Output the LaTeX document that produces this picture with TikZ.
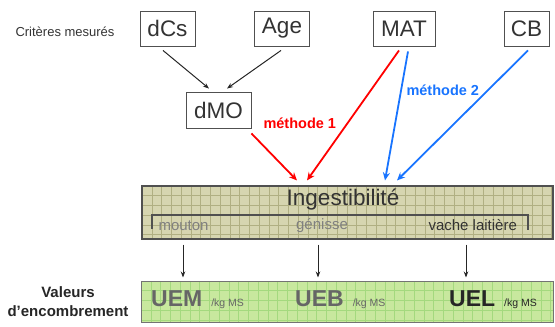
\documentclass[tikz,border=0pt]{standalone}
\usepackage{fontspec}
\setmainfont{Liberation Sans}
\usetikzlibrary{arrows.meta,calc}

\definecolor{txt}{HTML}{333333}
\definecolor{boxline}{HTML}{505050}
\definecolor{khaki}{HTML}{D6D5B0}
\definecolor{khakiline}{HTML}{B0AF82}
\definecolor{leaf}{HTML}{C8E89E}
\definecolor{leafline}{HTML}{A4D97E}
\definecolor{mred}{HTML}{FF0000}
\definecolor{mblue}{HTML}{1874FF}

\tikzset{
  critbox/.style={draw=boxline, line width=0.9pt, fill=white, inner sep=0pt,
    minimum height=35pt, text=txt, font=\fontsize{22.5}{22.5}\selectfont},
  band/.style={draw=boxline, line width=1.1pt, inner sep=0pt},
  blk/.style={draw=black!85, line width=1pt, -{Stealth[length=6pt,width=4.5pt]}},
  redarrow/.style={draw=mred, line width=1.8pt, -{Stealth[length=8pt,width=7pt]}},
  bluearrow/.style={draw=mblue, line width=1.8pt, -{Stealth[length=8pt,width=7pt]}},
  methode/.style={font=\fontsize{14.5}{14.5}\selectfont\bfseries, anchor=west},
  species/.style={font=\fontsize{15}{15}\selectfont, anchor=west},
  gridline/.style={line width=0.45pt},
}

\begin{document}
\begin{tikzpicture}[x=1pt,y=-1pt]
  \useasboundingbox (0,0) rectangle (555,327);

  % measured criteria
  \node[anchor=west, text=txt, font=\fontsize{13}{13}\selectfont] (crit) at (12,32) {Critères mesurés};
  \node[critbox, minimum width=55pt] (dCs) at (167.5,28.5) {dCs};
  \node[critbox, minimum width=55pt] (Age) at (282,28.5) {Age};
  \node[critbox, minimum width=62pt] (MAT) at (404,28.5) {MAT};
  \node[critbox, minimum width=45pt] (CB)  at (526.5,28.5) {CB};
  \node[critbox, minimum width=65pt, minimum height=36pt] (dMO) at (218.5,110) {dMO};

  % intake capacity band
  \fill[khaki] (142,186) rectangle (553,239);
  \foreach \i in {1,...,42} \draw[khakiline, gridline] (142+\i*9.75,186) -- (142+\i*9.75,239);
  \foreach \j in {1,...,5} \draw[khakiline, gridline] (142,186+\j*9.7) -- (553,186+\j*9.7);
  \node[band, minimum width=411pt, minimum height=53pt] (ing) at (347.5,212.5) {};
  \node[text=txt, font=\fontsize{22.5}{22.5}\selectfont] (ingt) at (343,200) {Ingestibilité};
  \draw[boxline, line width=1.3pt] (152,229) -- (152,215) -- (528,215) -- (528,230);
  \node[species, text=black!50] (mouton) at (155,225.5) {mouton};
  \node[species, text=black!50, anchor=center] (genisse) at (322,225.5) {génisse};
  \node[species, text=txt] (vache) at (425,225.5) {vache laitière};

  % fill values band
  \fill[leaf] (141,281) rectangle (553,322);
  \foreach \i in {1,...,42} \draw[leafline, gridline] (141+\i*9.75,281) -- (141+\i*9.75,322);
  \foreach \j in {1,...,4} \draw[leafline, gridline] (141,281+\j*9.7) -- (553,281+\j*9.7);
  \node[draw=black!55, line width=1pt, inner sep=0pt, minimum width=412pt, minimum height=41pt] (ue) at (347,301.5) {};
  \node[anchor=base west, text=black!60, inner sep=0pt] (uem) at (151,306)
    {{\fontsize{23}{23}\selectfont\bfseries UEM}\hspace{9pt}{\fontsize{10.5}{10.5}\selectfont /kg MS}};
  \node[anchor=base west, text=black!60, inner sep=0pt] (ueb) at (295,306)
    {{\fontsize{23}{23}\selectfont\bfseries UEB}\hspace{9pt}{\fontsize{10.5}{10.5}\selectfont /kg MS}};
  \node[anchor=base west, text=black!85, inner sep=0pt] (uel) at (449,306)
    {{\fontsize{23}{23}\selectfont\bfseries UEL}\hspace{9pt}{\fontsize{10.5}{10.5}\selectfont /kg MS}};
  \node[align=center, text=black!85, font=\fontsize{15}{19}\selectfont\bfseries] (val) at (68,302)
    {Valeurs\\d’encombrement};

  % black links
  \draw[blk] ([shift={(-4.5,4)}]dCs.south) -- ([shift={(-9.5,-3)}]dMO.north);
  \draw[blk] ([shift={(-1,4)}]Age.south) -- ([shift={(8.5,-3)}]dMO.north);

  % method 1
  \draw[redarrow] ([shift={(0,5)}]dMO.south east) -- ([shift={(-50.5,-5)}]ing.north);
  \draw[redarrow] ([shift={(-5,4)}]MAT.south) -- ([shift={(-40.5,-5)}]ing.north);
  \node[methode, text=mred] (m1) at (260,123) {méthode 1};

  % method 2
  \draw[bluearrow] ([shift={(4,5)}]MAT.south) -- ([shift={(37.5,-5)}]ing.north);
  \draw[bluearrow] ([shift={(1.5,4)}]CB.south) -- ([shift={(49.5,-5)}]ing.north);
  \node[methode, text=mblue] (m2) at (403,90) {méthode 2};

  % from intake capacity to fill values
  \draw[blk] ([shift={(-164.5,5)}]ing.south) -- ([shift={(-164,-3)}]ue.north);
  \draw[blk] ([shift={(-29.5,5)}]ing.south) -- ([shift={(-29,-3)}]ue.north);
  \draw[blk] ([shift={(118.5,5)}]ing.south) -- ([shift={(119,-3)}]ue.north);
\end{tikzpicture}
\end{document}
